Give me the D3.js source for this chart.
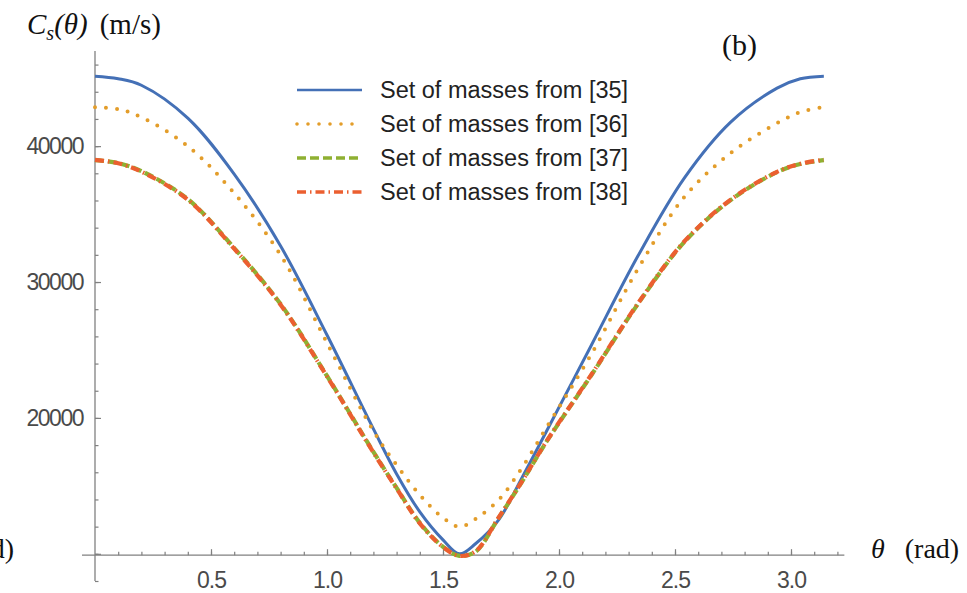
<!DOCTYPE html>
<html>
<head>
<meta charset="utf-8">
<script src="https://cdn.jsdelivr.net/npm/d3@7"></script>
<style>
  body { margin: 0; background: #fff; }
  svg { display: block; }
  .tick text { font-family: "Liberation Sans", Arial, sans-serif; font-size: 23px; fill: #4a4a4a; }
  .tick line { stroke: #808080; stroke-width: 1.2; }
  .serif { font-family: "Liberation Serif", "Times New Roman", serif; fill: #111; }
  .legend text { font-family: "Liberation Sans", Arial, sans-serif; font-size: 23.5px; fill: #222; }
</style>
</head>
<body>
<div class="wrapper"></div>
<script>
// overall size
var ultimatew = 967,
  ultimateh = 593;

// angle values (rad) where the curves were read
var thetaPts = [0, 0.1, 0.2, 0.4, 0.6, 0.8, 1.0, 1.2, 1.3, 1.4, 1.5, 1.5708, 1.64, 1.74, 1.84, 1.94, 2.14, 2.34, 2.54, 2.74, 2.94, 3.04, 3.1416];

// Cs(theta) in m/s, one list per set of masses
var cs35 = [45150, 44960, 44480, 42060, 37940, 32650, 26100, 19190, 15880, 13090, 11030, 10000, 10740, 12500, 15590, 18820, 25370, 31910, 37650, 41770, 44270, 44960, 45150];
var cs36 = [42870, 42720, 42130, 40000, 36540, 31990, 25520, 19040, 16540, 14340, 12650, 11990, 12570, 13970, 16320, 19120, 24710, 30960, 36250, 39490, 41690, 42500, 42870];
var cs37 = [38970, 38750, 38160, 36100, 32500, 28380, 23090, 17500, 14850, 12280, 10520, 9850, 10150, 12650, 15290, 18090, 23160, 28380, 32940, 36030, 38090, 38680, 38970];
var cs38 = [38990, 38740, 38120, 36060, 32450, 28330, 23050, 17460, 14810, 12240, 10500, 9850, 10180, 12680, 15320, 18120, 23200, 28420, 32980, 36060, 38110, 38700, 39000];

var seriesNames = [
  "Set of masses from [35]",
  "Set of masses from [36]",
  "Set of masses from [37]",
  "Set of masses from [38]"
];
var seriesValues = [cs35, cs36, cs37, cs38];
var seriesColors = ["#4470b6", "#e39d2a", "#8fb032", "#eb5f30"];
var seriesDash = ["none", "0,11", "9,4", "9,4,1.5,4"];
var seriesWidth = [3, 4, 4.2, 4.2];

// tick values
var xMajor = [0.5, 1.0, 1.5, 2.0, 2.5, 3.0];
var xMinor = d3.range(1, 33).map(function(i) { return i / 10; });
var yMajor = [20000, 30000, 40000];
var yMinor = d3.range(8000, 47000, 2000);
var yUnlabelled = [10000];
var axisCross = 9900; // x axis sits at this Cs value

var svg = d3
  .select(".wrapper")
  .append("svg")
  .attr("width", ultimatew)
  .attr("height", ultimateh);

// scales
var x = d3.scaleLinear().domain([0, 3]).range([95, 791]);
var y = d3.scaleLinear().domain([8000, 47000]).range([581, 51]);

//-------------------------------------------------------axes-------------------------------------------------------------------
var axisColor = "#808080";

// x axis line
svg
  .append("line")
  .attr("x1", x(-0.056))
  .attr("x2", x(3.23))
  .attr("y1", y(axisCross))
  .attr("y2", y(axisCross))
  .attr("stroke", axisColor)
  .attr("stroke-width", 1.3);

// y axis line
svg
  .append("line")
  .attr("x1", x(0))
  .attr("x2", x(0))
  .attr("y1", y(8000))
  .attr("y2", y(47000))
  .attr("stroke", axisColor)
  .attr("stroke-width", 1.3);

// x minor ticks
svg
  .append("g")
  .attr("transform", "translate(0," + y(axisCross) + ")")
  .call(d3.axisBottom(x).tickValues(xMinor).tickSize(-3.5).tickSizeOuter(0).tickFormat(""))
  .call(function(g) { g.select(".domain").remove(); });

// x major ticks + labels
svg
  .append("g")
  .attr("transform", "translate(0," + y(axisCross) + ")")
  .call(
    d3.axisBottom(x)
      .tickValues(xMajor)
      .tickSize(-6)
      .tickSizeOuter(0)
      .tickPadding(16)
      .tickFormat(d3.format(".1f"))
  )
  .call(function(g) { g.select(".domain").remove(); })
  .selectAll("text")
  .attr("letter-spacing", "-1");

// y minor ticks
svg
  .append("g")
  .attr("transform", "translate(" + x(0) + ",0)")
  .call(d3.axisLeft(y).tickValues(yMinor).tickSize(-3.5).tickSizeOuter(0).tickFormat(""))
  .call(function(g) { g.select(".domain").remove(); });

// y unlabelled major tick
svg
  .append("g")
  .attr("transform", "translate(" + x(0) + ",0)")
  .call(d3.axisLeft(y).tickValues(yUnlabelled).tickSize(-6).tickSizeOuter(0).tickFormat(""))
  .call(function(g) { g.select(".domain").remove(); });

// y major ticks + labels
svg
  .append("g")
  .attr("transform", "translate(" + x(0) + ",0)")
  .call(
    d3.axisLeft(y)
      .tickValues(yMajor)
      .tickSize(-6)
      .tickSizeOuter(0)
      .tickPadding(12)
      .tickFormat(d3.format("d"))
  )
  .call(function(g) { g.select(".domain").remove(); })
  .selectAll("text")
  .attr("letter-spacing", "-1.5");

//-------------------------------------------------------curves-------------------------------------------------------------------
var line = d3
  .line()
  .x(function(d) { return x(d[0]); })
  .y(function(d) { return y(d[1]); })
  .curve(d3.curveCatmullRom.alpha(0.5));

seriesValues.forEach(function(vals, i) {
  svg
    .append("path")
    .datum(thetaPts.map(function(t, j) { return [t, vals[j]]; }))
    .attr("fill", "none")
    .attr("stroke", seriesColors[i])
    .attr("stroke-width", seriesWidth[i])
    .attr("stroke-dasharray", seriesDash[i])
    .attr("stroke-linecap", i == 1 ? "round" : "butt")
    .attr("d", line);
});

//-------------------------------------------------------legend-------------------------------------------------------------------
var legend = svg.append("g").attr("class", "legend");

seriesNames.forEach(function(name, i) {
  var ly = 90 + i * 34;
  legend
    .append("line")
    .attr("x1", 297)
    .attr("x2", 362)
    .attr("y1", ly)
    .attr("y2", ly)
    .attr("stroke", seriesColors[i])
    .attr("stroke-width", i == 0 ? 2.6 : 3.6)
    .attr("stroke-dasharray", seriesDash[i] == "none" ? null : seriesDash[i])
    .attr("stroke-linecap", i == 1 ? "round" : "butt");
  legend
    .append("text")
    .attr("x", 380)
    .attr("y", ly)
    .attr("dy", "0.36em")
    .text(name);
});

//-------------------------------------------------------labels-------------------------------------------------------------------
var yTitle = svg
  .append("text")
  .attr("class", "serif")
  .attr("x", 27)
  .attr("y", 34)
  .attr("font-size", 29);
yTitle.append("tspan").attr("font-style", "italic").text("C");
yTitle
  .append("tspan")
  .attr("font-style", "italic")
  .attr("font-size", 20)
  .attr("dy", 6)
  .text("s");
yTitle.append("tspan").attr("font-style", "italic").attr("dy", -6).text("(θ)");
yTitle.append("tspan").attr("dx", 12).text("(m/s)");

var xTitle = svg
  .append("text")
  .attr("class", "serif")
  .attr("x", 871)
  .attr("y", 558)
  .attr("font-size", 28);
xTitle.append("tspan").attr("font-style", "italic").text("θ");
xTitle.append("tspan").attr("dx", 20).text("(rad)");

// panel tag
svg
  .append("text")
  .attr("class", "serif")
  .attr("x", 722)
  .attr("y", 55)
  .attr("font-size", 30)
  .text("(b)");

// neighbouring panel's axis label, cut off by the frame
svg
  .append("text")
  .attr("class", "serif")
  .attr("x", 14)
  .attr("y", 558)
  .attr("text-anchor", "end")
  .attr("font-size", 28)
  .text("(rad)");
</script>
</body>
</html>
